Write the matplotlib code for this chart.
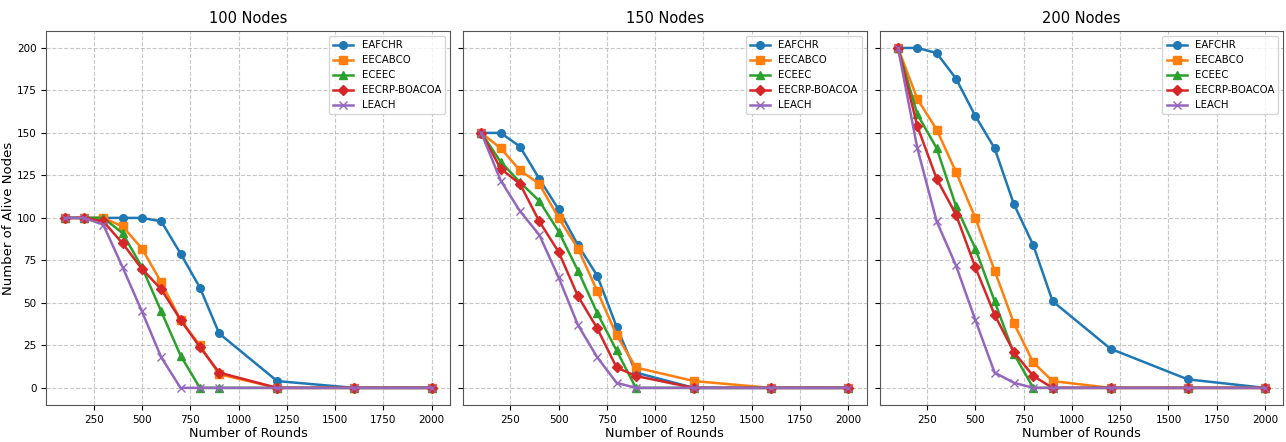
import matplotlib
matplotlib.use('Agg')
import matplotlib.pyplot as plt

rounds = [100, 200, 300, 400, 500, 600, 700, 800, 900, 1200, 1600, 2000]

# alive nodes per protocol, 100-node network
eafchr_100 = [100, 100, 100, 100, 100, 98, 79, 59, 32, 4, 0, 0]
eecabco_100 = [100, 100, 100, 95, 82, 62, 40, 25, 8, 0, 0, 0]
eceec_100 = [100, 100, 100, 91, 71, 45, 19, 0, 0, 0, 0, 0]
eecrp_100 = [100, 100, 98, 85, 70, 58, 40, 24, 9, 0, 0, 0]
leach_100 = [100, 100, 96, 71, 45, 18, 0, 0, 0, 0, 0, 0]

# 150-node network
eafchr_150 = [150, 150, 142, 123, 105, 84, 66, 36, 9, 0, 0, 0]
eecabco_150 = [150, 141, 128, 120, 100, 82, 57, 31, 12, 4, 0, 0]
eceec_150 = [150, 133, 121, 110, 92, 69, 44, 22, 0, 0, 0, 0]
eecrp_150 = [150, 129, 120, 98, 80, 54, 35, 12, 7, 0, 0, 0]
leach_150 = [150, 122, 104, 90, 65, 37, 18, 3, 0, 0, 0, 0]

# 200-node network
eafchr_200 = [200, 200, 197, 182, 160, 141, 108, 84, 51, 23, 5, 0]
eecabco_200 = [200, 170, 152, 127, 100, 69, 38, 15, 4, 0, 0, 0]
eceec_200 = [200, 161, 141, 107, 82, 51, 20, 0, 0, 0, 0, 0]
eecrp_200 = [200, 154, 123, 102, 71, 43, 21, 7, 0, 0, 0, 0]
leach_200 = [200, 141, 98, 72, 40, 9, 3, 0, 0, 0, 0, 0]

protocols = ['EAFCHR', 'EECABCO', 'ECEEC', 'EECRP-BOACOA', 'LEACH']
markers = ['o', 's', '^', 'D', 'x']
colors = ['#1f77b4', '#ff7f0e', '#2ca02c', '#d62728', '#9467bd']

panels = [
    ('100 Nodes', [eafchr_100, eecabco_100, eceec_100, eecrp_100, leach_100]),
    ('150 Nodes', [eafchr_150, eecabco_150, eceec_150, eecrp_150, leach_150]),
    ('200 Nodes', [eafchr_200, eecabco_200, eceec_200, eecrp_200, leach_200]),
]

fig, axes = plt.subplots(1, 3, figsize=(12.86, 4.42), dpi=100, sharey=True)

for ax, (title, series) in zip(axes, panels):
    for name, vals, mk, c in zip(protocols, series, markers, colors):
        ax.plot(rounds, vals, marker=mk, color=c, label=name,
                linewidth=1.8, markersize=5.5)
    ax.set_title(title, fontsize=10.5)
    ax.set_xlabel('Number of Rounds', fontsize=9.2, labelpad=2)
    ax.grid(True, linestyle='--', alpha=0.7)
    ax.legend(loc='upper right', fontsize=7.3)
    ax.tick_params(labelsize=7.5)
    ax.set_ylim(-10, 210)
    for s in ax.spines.values():
        s.set_color('#555555')

axes[0].set_ylabel('Number of Alive Nodes', fontsize=9.5, labelpad=1)

fig.subplots_adjust(left=0.036, right=0.998, bottom=0.084, top=0.93, wspace=0.032)
fig.savefig('out.png')
